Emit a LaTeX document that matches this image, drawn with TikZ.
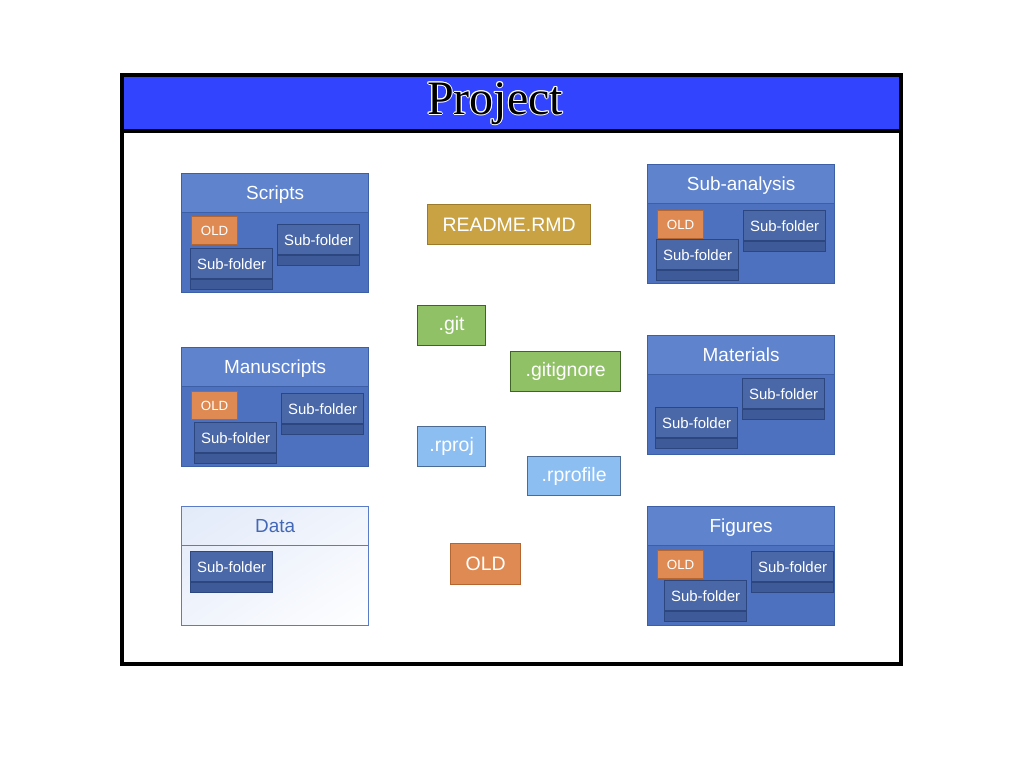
\documentclass[tikz,border=0pt]{standalone}
\usepackage{fontspec}
\setmainfont{Liberation Sans}
\newfontfamily\titlefont{Liberation Serif}
\usetikzlibrary{shadings}
\newdimen\px \px=0.75pt
\definecolor{titleblue}{HTML}{3344FF}
\definecolor{fhead}{HTML}{5F83CC}
\definecolor{fbody}{HTML}{4D71BE}
\definecolor{fbord}{HTML}{3D5FA8}
\definecolor{stop}{HTML}{4A68A8}
\definecolor{sstrip}{HTML}{3E5A98}
\definecolor{sbord}{HTML}{2C4680}
\definecolor{oldfill}{HTML}{DF8A52}
\definecolor{oldbord}{HTML}{B5652F}
\definecolor{readfill}{HTML}{C9A343}
\definecolor{readbord}{HTML}{9C7A2A}
\definecolor{gitfill}{HTML}{91C166}
\definecolor{gitbord}{HTML}{3F6524}
\definecolor{rfill}{HTML}{8CBEF2}
\definecolor{rbord}{HTML}{4C6B92}
\definecolor{dataA}{HTML}{E2EAF9}
\definecolor{dataM}{HTML}{F0F4FC}
\definecolor{datatext}{HTML}{4468B8}
\definecolor{databord}{HTML}{5A7CC8}
\tikzset{
  base/.style={anchor=north west, inner sep=0pt, line width=0.9pt},
  fbodybox/.style={base, draw=fbord, fill=fbody, minimum width=187*\px, minimum height=119*\px},
  fheadbox/.style={base, draw=fbord, fill=fhead, minimum width=187*\px, minimum height=39*\px,
     text=white, text depth=0pt, font=\fontsize{14.2}{16}\selectfont},
  subtop/.style={base, draw=sbord, fill=stop, minimum width=82*\px, minimum height=30*\px,
     text=white, text depth=0pt, font=\fontsize{11.2}{13}\selectfont},
  substrip/.style={base, draw=sbord, fill=sstrip, minimum width=82*\px, minimum height=10*\px},
  smallold/.style={base, draw=oldbord, fill=oldfill, minimum width=46*\px, minimum height=28*\px,
     text=white, font=\fontsize{10}{12}\selectfont},
  item/.style={base, line width=1pt, text=white, font=\fontsize{14.6}{17}\selectfont, minimum height=40*\px},
}
\newcommand\subfold[3]{%
  \node[subtop] (#1) at (#2,#3) {Sub-folder};
  \node[substrip] (#1s) at (#1.south west) {};}
\begin{document}
\begin{tikzpicture}[x=0.75pt,y=-0.75pt]
\useasboundingbox (0,0) rectangle (1024,768);
% frame and title
\fill[titleblue] (122,75) rectangle (901,131);
\draw[line width=2.4pt] (122,131) -- (901,131);
\draw[line width=2.4pt] (122,75) rectangle (901,664);
\foreach \dx/\dy in {-1/0,1/0,0/-1,0/1,-0.7/-0.7,0.7/0.7,-0.7/0.7,0.7/-0.7}
  \node[text=white, font=\titlefont\fontsize{36}{40}\selectfont, inner sep=0pt, anchor=base] at (495+\dx,114+\dy) {Project};
\node[font=\titlefont\fontsize{36}{40}\selectfont, inner sep=0pt, anchor=base] (title) at (495,114) {Project};

% Scripts
\node[fbodybox] (scripts) at (181,173) {};
\node[fheadbox] (scriptsh) at (181,173) {Scripts};
\node[smallold] (scriptsold) at (191,216) {OLD};
\subfold{scriptsA}{190}{248}
\subfold{scriptsB}{277}{224}

% Manuscripts
\node[fbodybox] (manu) at (181,347) {};
\node[fheadbox] (manuh) at (181,347) {Manuscripts};
\node[smallold] (manuold) at (191,391) {OLD};
\subfold{manuA}{194}{422}
\subfold{manuB}{281}{393}

% Data
\node[fbodybox, draw=databord, shade, upper left=dataA, lower right=white, upper right=dataM, lower left=dataM] (data) at (181,506) {};
\node[fheadbox, draw=databord, fill=none, text=datatext] (datah) at (181,506) {Data};
\subfold{dataA}{190}{551}

% Sub-analysis
\node[fbodybox] (suban) at (647,164) {};
\node[fheadbox] (subanh) at (647,164) {Sub-analysis};
\node[smallold] (subanold) at (657,210) {OLD};
\subfold{subanA}{656}{239}
\subfold{subanB}{743}{210}

% Materials
\node[fbodybox] (mat) at (647,335) {};
\node[fheadbox] (math) at (647,335) {Materials};
\subfold{matA}{655}{407}
\subfold{matB}{742}{378}

% Figures
\node[fbodybox] (fig) at (647,506) {};
\node[fheadbox] (figh) at (647,506) {Figures};
\node[smallold] (figold) at (657,550) {OLD};
\subfold{figA}{664}{580}
\subfold{figB}{751}{551}

% centre items
\node[item, draw=readbord, fill=readfill, minimum width=163*\px] (readme) at (427,204) {README.RMD};
\node[item, draw=gitbord, fill=gitfill, minimum width=68*\px] (git) at (417,305) {.git};
\node[item, draw=gitbord, fill=gitfill, minimum width=110*\px] (gitignore) at (510,351) {.gitignore};
\node[item, draw=rbord, fill=rfill, minimum width=68*\px] (rproj) at (417,426) {.rproj};
\node[item, draw=rbord, fill=rfill, minimum width=93*\px, minimum height=39*\px] (rprofile) at (527,456) {.rprofile};
\node[item, draw=oldbord, fill=oldfill, minimum width=70*\px, minimum height=41*\px] (old) at (450,543) {OLD};
\end{tikzpicture}
\end{document}
